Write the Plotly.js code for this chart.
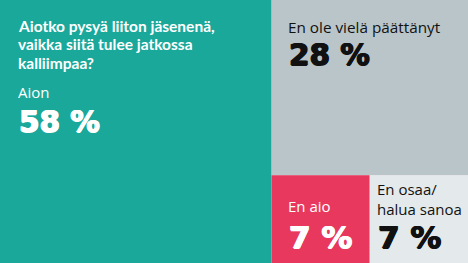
<!DOCTYPE html>
<html><head><meta charset="utf-8">
<script src="https://cdn.plot.ly/plotly-3.0.1.min.js"></script>
<style>html,body{margin:0;padding:0;background:#fff}#chart{width:468px;height:263px}</style>
</head><body><div id="chart"></div>
<script>
// Data
const labels = ['Kaikki', 'Aion', 'Muut', 'En ole vielä päättänyt', 'Pienet', 'En aio', 'En osaa/<br>halua sanoa'];
const parents = ['', 'Kaikki', 'Kaikki', 'Muut', 'Muut', 'Pienet', 'Pienet'];
const values = [100, 58, 42, 28, 14, 7, 7];
const colors = ['#1aa89a', '#1aa89a', '#b9c5c9', '#b9c5c9', '#e4e9eb', '#e8385e', '#e4e9eb'];
const question = ['Aiotko pysyä liiton jäsenenä,', 'vaikka siitä tulee jatkossa', 'kalliimpaa?'];
const valueLabels = ['58 %', '28 %', '7 %', '7 %'];

const W = 468, H = 263;
const px = x => x / W, py = y => 1 - y / H;
const sans = 'Open Sans, Noto Sans, sans-serif';
const head = 'Lato, Open Sans, sans-serif';
const num = 'DejaVu Sans, sans-serif';

function ann(text, x, y, size, color, family, weight, heavy) {
  const f = {size: size, color: color, family: family, weight: weight || 400};
  if (heavy) f.shadow = '0.7px 0 0 ' + color + ', -0.7px 0 0 ' + color + ', 0 0.5px 0 ' + color;
  return {text: text, xref: 'paper', yref: 'paper', x: px(x), y: py(y), xanchor: 'left', yanchor: 'middle',
    align: 'left', showarrow: false, borderpad: 0, font: f};
}

const annotations = [
  ann(question[0], 17, 26, 15.5, '#fff', head, 700, false),
  ann(question[1], 17, 44.5, 15.5, '#fff', head, 700, false),
  ann(question[2], 17, 63, 15.5, '#fff', head, 700, false),
  ann(labels[1], 17, 92, 15, '#fff', sans, 400),
  ann(valueLabels[0], 18, 122, 29.5, '#fff', num, 700, true),
  ann(labels[3], 287, 27, 15.3, '#111', sans, 400),
  ann(valueLabels[1], 288, 55, 29.5, '#111', num, 700, true),
  ann(labels[5], 287, 206, 15, '#fff', sans, 400),
  ann(valueLabels[2], 288, 237, 31, '#fff', num, 700, true),
  ann(labels[6], 376, 199, 15, '#111', sans, 400),
  ann(valueLabels[3], 377, 237, 31, '#111', num, 700, true)
];

const trace = {
  type: 'treemap', labels: labels, parents: parents, values: values,
  branchvalues: 'total', sort: false,
  tiling: {packing: 'slice-dice', pad: 0},
  marker: {colors: colors, line: {width: 0}, pad: {t: 0, l: 0, r: 0, b: 0}},
  textinfo: 'none', hoverinfo: 'skip', pathbar: {visible: false}, maxdepth: -1
};

Plotly.newPlot('chart', [trace], {
  width: W, height: H, margin: {l: 0, r: 0, t: 0, b: 0},
  paper_bgcolor: '#fff', annotations: annotations, showlegend: false
}, {displayModeBar: false, staticPlot: true});
</script></body></html>
